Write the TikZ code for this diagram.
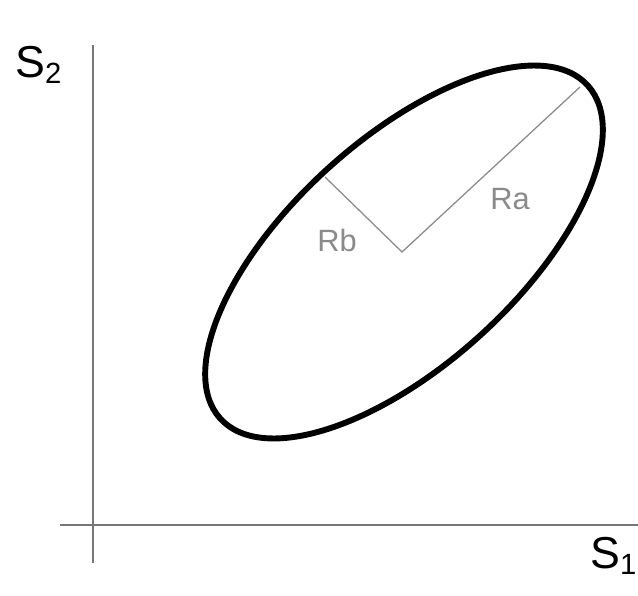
\documentclass[tikz,border=0pt]{standalone}
\usepackage{fontspec}
\setmainfont{Liberation Sans}
\usepackage{tikz}
\usetikzlibrary{positioning}
\usepackage{xcolor}
\definecolor{axisgray}{HTML}{777777}
\definecolor{radgray}{HTML}{8A8A8A}

\begin{document}
\begin{tikzpicture}[x=0.025cm, y=0.025cm,
  axis/.style={draw=axisgray, line width=1.3pt},
  ell/.style={draw=black, line width=4.2pt},
  radline/.style={draw=radgray, line width=0.9pt},
  axlab/.style={inner sep=0pt, anchor=base west, font=\fontsize{31.8}{32}\selectfont},
  rlab/.style={inner sep=0pt, anchor=base west, text=radgray, font=\fontsize{21.9}{22}\selectfont}
]
\useasboundingbox (0,0) rectangle (638,595);
\coordinate (ytop) at (93,550);
\coordinate (ybot) at (93,32);
\coordinate (xleft) at (60,70);
\coordinate (xright) at (638,70);
\coordinate (ctr) at (402,343);
\coordinate (aend) at (580,508);
\coordinate (bend) at (325,418);
\draw[axis] (ybot) -- (ytop);
\draw[axis] (xleft) -- (xright);
\draw[ell, rotate around={42.2:(404,343)}] (404,343) ellipse [x radius=248, y radius=113];
\draw[radline] (aend) -- (ctr) -- (bend);
\node[axlab] (s2lab) at (15,518) {S\raisebox{-4.3pt}{\fontsize{20.8}{21}\selectfont 2}};
\node[axlab] (s1lab) at (590,27) {S\raisebox{-4.3pt}{\fontsize{20.8}{21}\selectfont 1}};
\node[rlab] (ralab) at (490,386) {Ra};
\node[rlab] (rblab) at (317,344) {Rb};
\end{tikzpicture}
\end{document}
